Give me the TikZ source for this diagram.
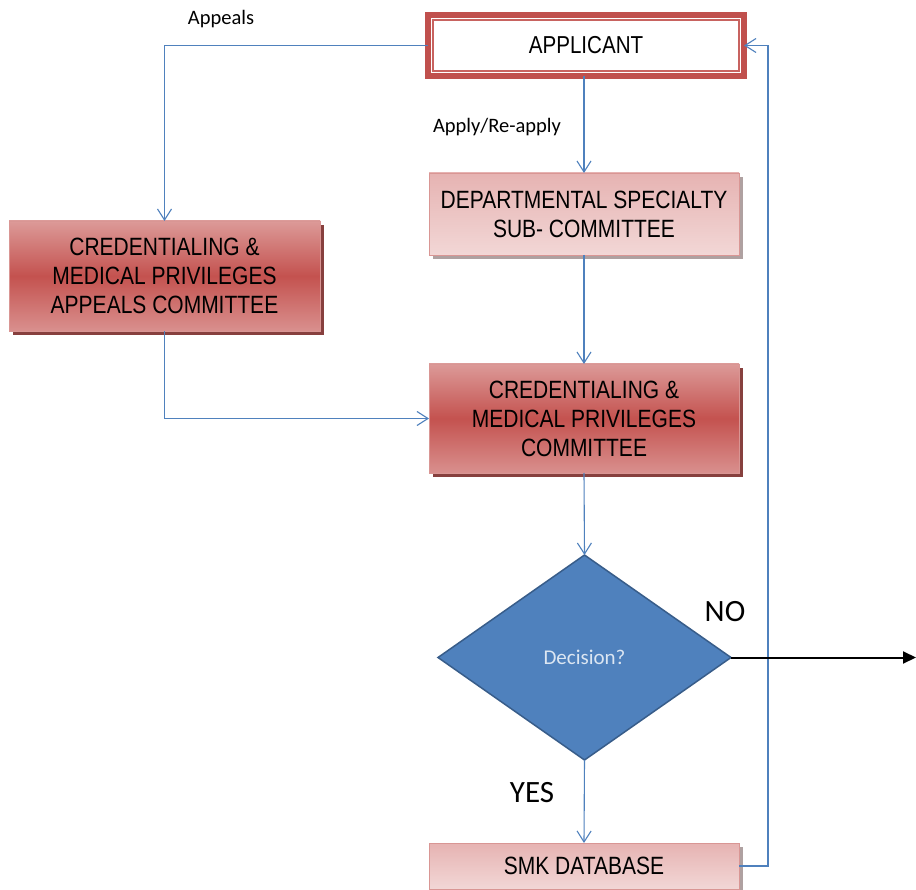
\documentclass[tikz,border=0pt]{standalone}
\usepackage{fontspec}
\setmainfont{Liberation Sans}
\newfontfamily\tallfont[FakeStretch=0.84]{Liberation Sans}
\newfontfamily\carl{Carlito}
\usetikzlibrary{shapes.geometric,arrows.meta,shadows,calc}
\definecolor{conn}{HTML}{4F81BD}
\definecolor{apred}{HTML}{C0504D}
\definecolor{apthin}{HTML}{C86360}
\definecolor{redtop}{HTML}{DC9A98}
\definecolor{redmid}{HTML}{C4524F}
\definecolor{redbot}{HTML}{D9908E}
\definecolor{redshadow}{HTML}{7A2C2A}
\definecolor{pinktop}{HTML}{E6B3B2}
\definecolor{pinkbot}{HTML}{F2D7D6}
\definecolor{pinkshadow}{HTML}{9C8A8A}
\definecolor{boxline}{HTML}{D99694}
\definecolor{dfill}{HTML}{4F81BD}
\definecolor{dline}{HTML}{385D8A}
\definecolor{dtext}{HTML}{DCE6F2}
\tikzset{
  boxtext/.style={font=\tallfont\fontsize{25}{29}\selectfont, align=center, text=black},
  redbox/.style={boxtext, rectangle, draw=boxline, line width=0.6pt, outer sep=0pt,
    top color=redtop, bottom color=redbot, middle color=redmid,
    drop shadow={shadow xshift=4pt, shadow yshift=-4pt, fill=redshadow, opacity=0.9}},
  pinkbox/.style={boxtext, rectangle, draw=boxline, line width=0.6pt, outer sep=0pt,
    top color=pinktop, bottom color=pinkbot,
    drop shadow={shadow xshift=4pt, shadow yshift=-4pt, fill=pinkshadow, opacity=0.8}},
  conline/.style={draw=conn, line width=1.1pt},
  conarrow/.style={conline, -{Straight Barb[length=11pt,width=14pt,line width=1.1pt]}},
  lbl/.style={font=\carl\fontsize{20.5}{24}\selectfont, text=black},
  biglbl/.style={font=\carl\fontsize{31}{36}\selectfont, text=black}
}
\begin{document}
\begin{tikzpicture}[x=1pt,y=-1pt]
\useasboundingbox[fill=white] (0,0) rectangle (916,890);

% APPLICANT
\node[rectangle, draw=apred, line width=6pt, fill=white, outer sep=0pt,
      minimum width=316, minimum height=61, inner sep=0pt,
      font=\tallfont\fontsize{24.5}{28}\selectfont] (app) at (586,45.5) {APPLICANT};
\draw[apthin, line width=1.5pt] ($(app.north west)+(5,5)$) rectangle ($(app.south east)+(-5,-5)$);

% boxes
\node[pinkbox, minimum width=310, minimum height=82, inner sep=0pt] (dss) at (584,214) {DEPARTMENTAL SPECIALTY\\SUB- COMMITTEE};
\node[redbox, minimum width=311, minimum height=110, inner sep=0pt] (cmpac) at (164.5,276) {CREDENTIALING \&\\MEDICAL PRIVILEGES\\APPEALS COMMITTEE};
\node[redbox, minimum width=310, minimum height=109, inner sep=0pt] (cmpc) at (584,418.5) {CREDENTIALING \&\\MEDICAL PRIVILEGES\\COMMITTEE};
\node[diamond, draw=dline, fill=dfill, line width=1.5pt, minimum width=293, minimum height=205,
      inner sep=0pt, outer sep=0pt, font=\carl\fontsize{21}{24}\selectfont, text=dtext] (dec) at (584.5,657.5) {Decision?};
\node[pinkbox, minimum width=310, minimum height=46, inner sep=0pt] (smk) at (584,866) {SMK DATABASE};

% labels
\node[lbl] (lapp) at (221,19) {Appeals};
\node[lbl] (lapply) at (497,127) {Apply/Re-apply};
\node[biglbl] (lno) at (725,612) {NO};
\node[biglbl] (lyes) at (532,793) {YES};

% connectors
\coordinate (noend) at (916,657.5);
\draw[conarrow] (app.west) -| (cmpac.north);
\draw[conarrow] (app.south -| dss.north) -- (dss.north);
\draw[conarrow] (dss.south) -- (cmpc.north);
\draw[conarrow] (cmpac.south) |- (cmpc.west);
\draw[conarrow] (cmpc.south) -- (dec.north);
\draw[conarrow] (dec.south) -- (smk.north);
\draw[conarrow] (smk.east) -- ++(29,0) |- (app.east);
\draw[line width=2pt, -{Triangle[length=13pt,width=12pt]}] (dec.east) -- (noend);
\end{tikzpicture}
\end{document}
